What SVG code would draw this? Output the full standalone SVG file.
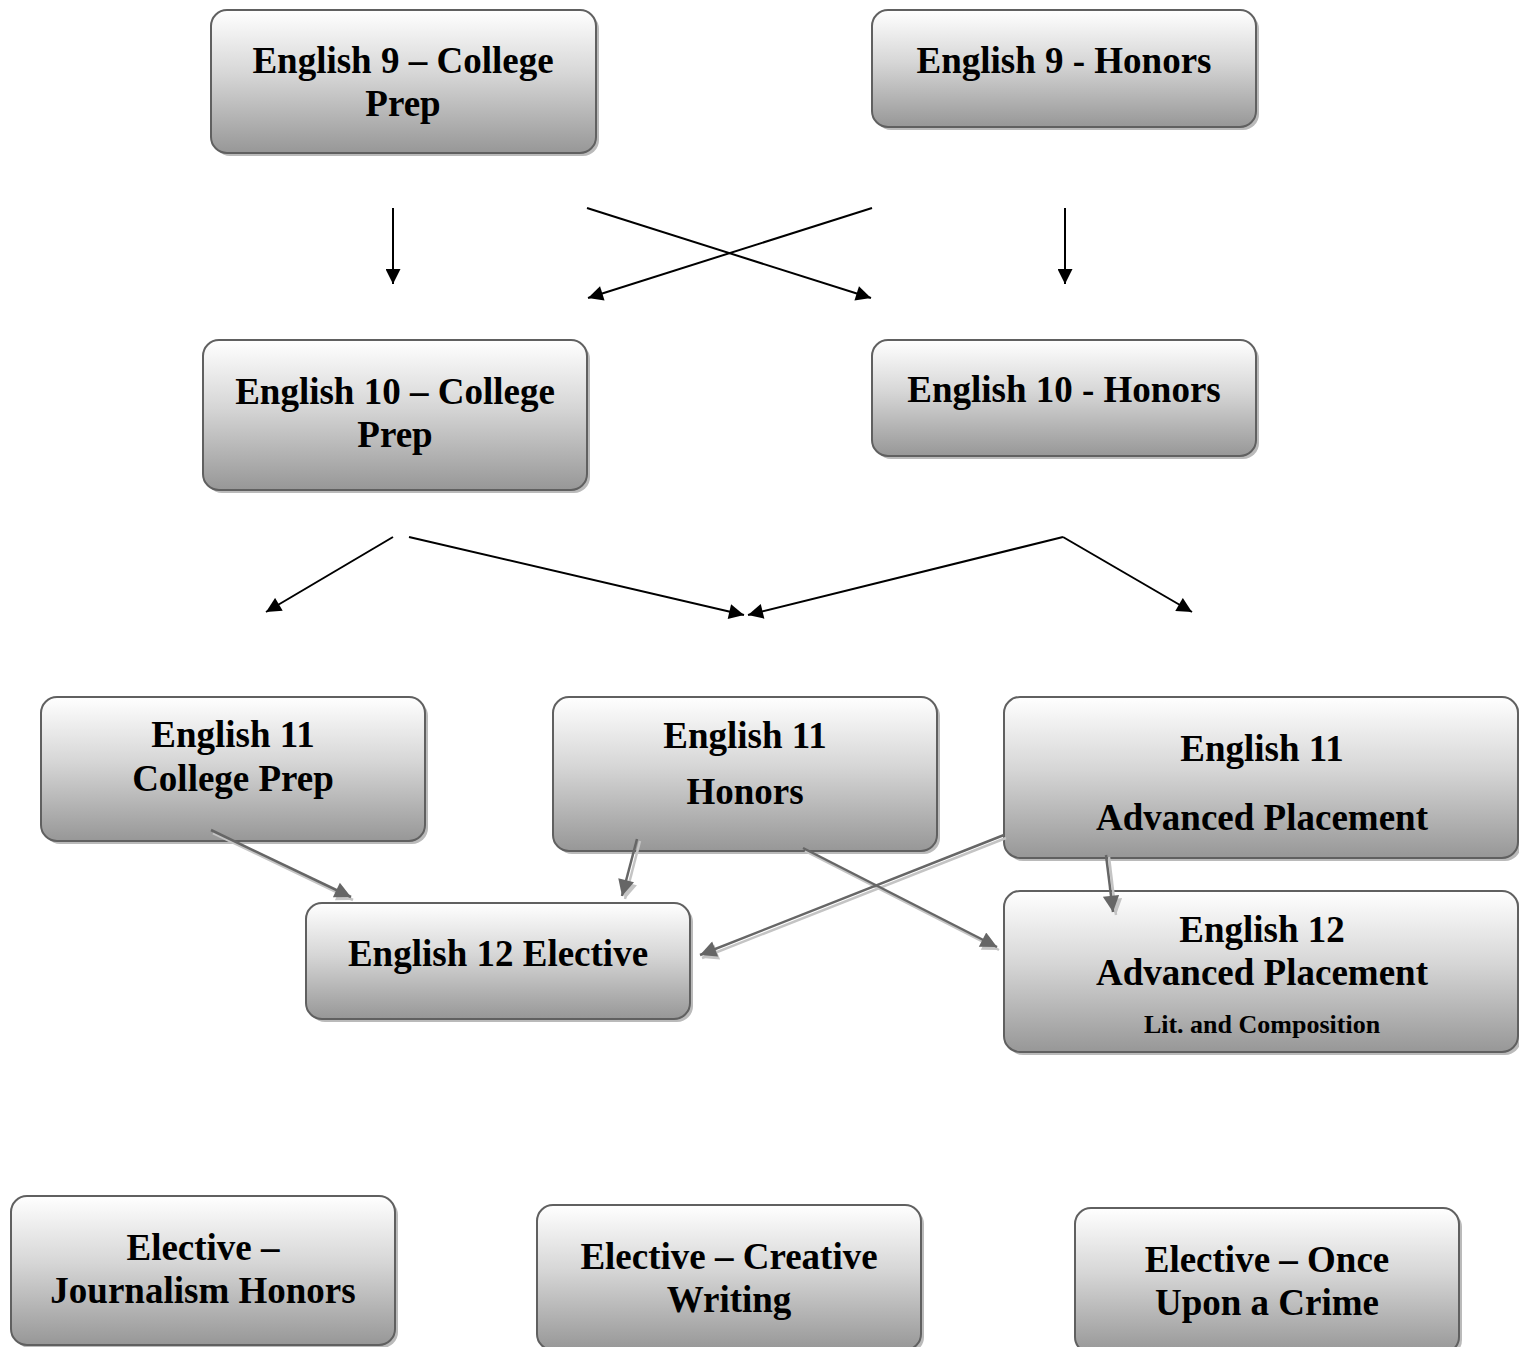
<svg xmlns="http://www.w3.org/2000/svg" width="1519" height="1347" viewBox="0 0 1519 1347">
<style>
.box{fill:url(#g);stroke:#606060;stroke-width:2}
.sh{fill:#8c8c8c;opacity:0.6}
.t{font-family:"Liberation Serif","Times New Roman",serif;font-weight:bold;font-size:37px;fill:#000;text-anchor:middle}
.s{font-size:26px}
.blk{stroke:#000;stroke-width:2;fill:none;marker-end:url(#ab)}
.gr{stroke:#666;stroke-width:2.5;fill:none;marker-end:url(#ag)}
.grs{stroke:#c4c4c4;stroke-width:2.5;fill:none;marker-end:url(#as)}
</style>
<defs>
<linearGradient id="g" x1="0" y1="0" x2="0" y2="1">
<stop offset="0" stop-color="#ffffff"/>
<stop offset="0.45" stop-color="#d6d6d6"/>
<stop offset="1" stop-color="#979797"/>
</linearGradient>
<marker id="ab" viewBox="0 0 10 10" refX="10" refY="5" markerWidth="8.5" markerHeight="7.5" orient="auto" markerUnits="strokeWidth"><path d="M0,0L10,5L0,10z" fill="#000"/></marker>
<marker id="ag" viewBox="0 0 10 10" refX="10" refY="5" markerWidth="7" markerHeight="6.5" orient="auto" markerUnits="strokeWidth"><path d="M0,0L10,5L0,10z" fill="#666"/></marker>
<marker id="as" viewBox="0 0 10 10" refX="10" refY="5" markerWidth="7" markerHeight="6.5" orient="auto" markerUnits="strokeWidth"><path d="M0,0L10,5L0,10z" fill="#c4c4c4"/></marker>
</defs>

<g id="n-e9cp"><rect class="sh" x="214" y="13" width="385" height="143" rx="16"/><rect class="box" x="211" y="10" width="385" height="143" rx="16"/><text class="t" x="403" y="73">English 9 – College</text><text class="t" x="403" y="116">Prep</text></g>
<g id="n-e9h"><rect class="sh" x="875" y="13" width="384" height="117" rx="16"/><rect class="box" x="872" y="10" width="384" height="117" rx="16"/><text class="t" x="1064" y="73">English 9 - Honors</text></g>
<g id="n-e10cp"><rect class="sh" x="206" y="343" width="384" height="150" rx="16"/><rect class="box" x="203" y="340" width="384" height="150" rx="16"/><text class="t" x="395" y="404">English 10 – College</text><text class="t" x="395" y="447">Prep</text></g>
<g id="n-e10h"><rect class="sh" x="875" y="343" width="384" height="116" rx="16"/><rect class="box" x="872" y="340" width="384" height="116" rx="16"/><text class="t" x="1064" y="402">English 10 - Honors</text></g>
<g id="n-e11cp"><rect class="sh" x="44" y="700" width="384" height="144" rx="16"/><rect class="box" x="41" y="697" width="384" height="144" rx="16"/><text class="t" x="233" y="747">English 11</text><text class="t" x="233" y="791">College Prep</text></g>
<g id="n-e11h"><rect class="sh" x="556" y="700" width="384" height="154" rx="16"/><rect class="box" x="553" y="697" width="384" height="154" rx="16"/><text class="t" x="745" y="748">English 11</text><text class="t" x="745" y="804">Honors</text></g>
<g id="n-e11ap"><rect class="sh" x="1007" y="700" width="514" height="161" rx="16"/><rect class="box" x="1004" y="697" width="514" height="161" rx="16"/><text class="t" x="1262" y="761">English 11</text><text class="t" x="1262" y="830">Advanced Placement</text></g>
<g id="n-e12el"><rect class="sh" x="309" y="906" width="384" height="116" rx="16"/><rect class="box" x="306" y="903" width="384" height="116" rx="16"/><text class="t" x="498" y="966">English 12 Elective</text></g>
<g id="n-e12ap"><rect class="sh" x="1007" y="894" width="514" height="161" rx="16"/><rect class="box" x="1004" y="891" width="514" height="161" rx="16"/><text class="t" x="1262" y="942">English 12</text><text class="t" x="1262" y="985">Advanced Placement</text><text class="t s" x="1262" y="1033">Lit. and Composition</text></g>
<g id="n-ej"><rect class="sh" x="14" y="1199" width="384" height="149" rx="16"/><rect class="box" x="11" y="1196" width="384" height="149" rx="16"/><text class="t" x="203" y="1260">Elective –</text><text class="t" x="203" y="1303">Journalism Honors</text></g>
<g id="n-ecw"><rect class="sh" x="540" y="1208" width="384" height="145" rx="16"/><rect class="box" x="537" y="1205" width="384" height="145" rx="16"/><text class="t" x="729" y="1269">Elective – Creative</text><text class="t" x="729" y="1312">Writing</text></g>
<g id="n-eoc"><rect class="sh" x="1078" y="1211" width="384" height="145" rx="16"/><rect class="box" x="1075" y="1208" width="384" height="145" rx="16"/><text class="t" x="1267" y="1272">Elective – Once</text><text class="t" x="1267" y="1315">Upon a Crime</text></g>

<g id="connectors">
<line class="blk" x1="393" y1="208" x2="393" y2="284"/>
<line class="blk" x1="587" y1="208" x2="871" y2="298"/>
<line class="blk" x1="872" y1="208" x2="588" y2="298"/>
<line class="blk" x1="1065" y1="208" x2="1065" y2="284"/>
<line class="blk" x1="393" y1="537" x2="266" y2="612"/>
<line class="blk" x1="409" y1="537" x2="744" y2="615"/>
<line class="blk" x1="1063" y1="537" x2="748" y2="615"/>
<line class="blk" x1="1063" y1="537" x2="1192" y2="612"/>
<line class="grs" x1="213" y1="833" x2="353" y2="900"/>
<line class="grs" x1="640" y1="841" x2="625" y2="899"/>
<line class="grs" x1="805" y1="851" x2="999" y2="950"/>
<line class="grs" x1="1006" y1="838" x2="702" y2="958"/>
<line class="grs" x1="1109" y1="857" x2="1116" y2="915"/>
<line class="gr" x1="211" y1="830" x2="351" y2="897"/>
<line class="gr" x1="637" y1="839" x2="622" y2="896"/>
<line class="gr" x1="803" y1="848" x2="997" y2="947"/>
<line class="gr" x1="1004" y1="835" x2="700" y2="955"/>
<line class="gr" x1="1106" y1="855" x2="1113" y2="912"/>
</g>
</svg>
